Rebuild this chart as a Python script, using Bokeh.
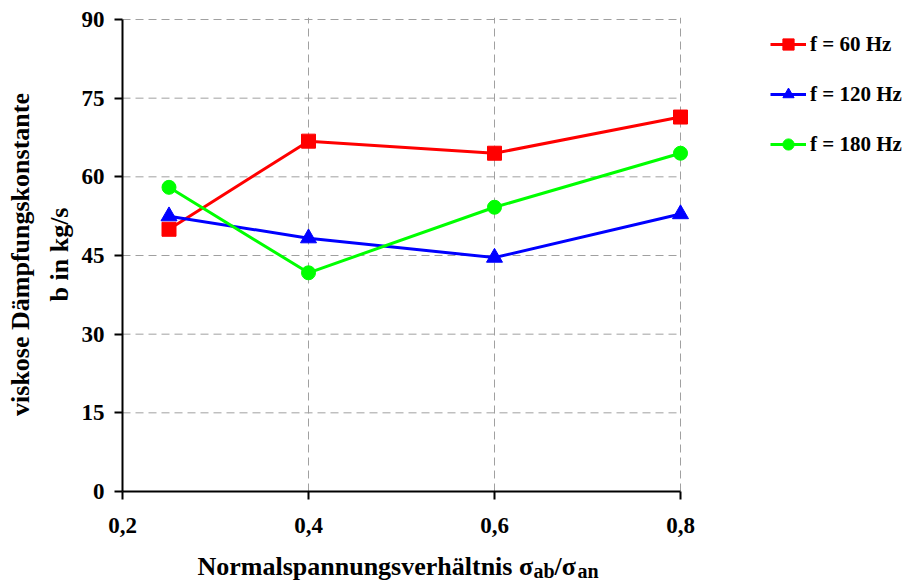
from bokeh.plotting import figure
from bokeh.layouts import column
from bokeh.models import Label, Legend, LegendItem, FixedTicker, Range1d, Title
from bokeh.embed import file_html
from bokeh.resources import INLINE

# ---- data ----
x_vals = [0.25, 0.4, 0.6, 0.8]
b_60 = [50.0, 66.8, 64.5, 71.4]
b_120 = [52.5, 48.3, 44.6, 52.9]
b_180 = [58.0, 41.7, 54.2, 64.5]
series_names = ["f = 60 Hz", "f = 120 Hz", "f = 180 Hz"]
x_ticks = [0.2, 0.4, 0.6, 0.8]
x_tick_labels = ["0,2", "0,4", "0,6", "0,8"]
y_ticks = [0, 15, 30, 45, 60, 75, 90]
y_title_lines = ["viskose Dämpfungskonstante", "b in kg/s"]
x_title_parts = ["Normalspannungsverhältnis σ", "ab", "/σ", "an"]

FONT = "Liberation Serif"
W = 905
H1, H2 = 548, 35
LEFT, TOP = 122, 17
AXIS_W, FH = 558, 474          # pixel length of 0.2..0.8 and frame height
FW = W - LEFT                  # frame runs to the right edge (room for legend)

xmin, xmax = x_ticks[0], x_ticks[-1]
ymin, ymax = y_ticks[0], y_ticks[-1]
x_end = xmin + (xmax - xmin) * FW / AXIS_W
y_end = ymax + (ymax - ymin) * 2 / (FH - 2)

p = figure(width=W, height=H1, output_backend="svg", toolbar_location=None,
           x_range=Range1d(xmin, x_end), y_range=Range1d(ymin, y_end),
           min_border_left=LEFT, min_border_top=TOP,
           min_border_right=0, min_border_bottom=H1 - TOP - FH)
p.outline_line_color = None
p.background_fill_color = "white"
p.border_fill_color = "white"

# axes
for ax in (p.xaxis[0], p.yaxis[0]):
    ax.axis_line_width = 2
    ax.axis_line_color = "black"
    ax.major_tick_line_width = 2
    ax.major_tick_line_color = "black"
    ax.major_tick_in = 0
    ax.major_tick_out = 8
    ax.minor_tick_line_color = None
    ax.major_label_text_font = FONT
    ax.major_label_text_font_style = "bold"
    ax.major_label_text_font_size = "23px"
    ax.major_label_text_color = "black"
    ax.axis_label = None
p.xaxis[0].ticker = FixedTicker(ticks=x_ticks)
p.xaxis[0].major_label_overrides = {t: l for t, l in zip(x_ticks, x_tick_labels)}
p.xaxis[0].bounds = (xmin, xmax)
p.xaxis[0].major_label_standoff = 18
p.yaxis[0].ticker = FixedTicker(ticks=y_ticks)
p.yaxis[0].bounds = (ymin, ymax)
p.yaxis[0].major_label_standoff = 10

# grid
p.xgrid.grid_line_color = "#A0A0A0"
p.xgrid.grid_line_dash = "8 5"
p.xgrid.grid_line_width = 1
p.xgrid.ticker = FixedTicker(ticks=x_ticks[1:])
p.ygrid.grid_line_color = None
p.segment(x0=[xmin] * (len(y_ticks) - 1), x1=[xmax] * (len(y_ticks) - 1),
          y0=y_ticks[1:], y1=y_ticks[1:], line_color="#A0A0A0",
          line_dash="8 5", line_width=1)

# series
colors = ["#FF0000", "#0000FF", "#00FF00"]
markers = ["square", "triangle", "circle"]
sizes = [14, 16, 14]
items = []
for ys, name, c, m, s in zip([b_60, b_120, b_180], series_names, colors, markers, sizes):
    l = p.line(x_vals, ys, line_color=c, line_width=3)
    sc = p.scatter(x_vals, ys, marker=m, size=s, fill_color=c, line_color=c)
    items.append(LegendItem(label=name, renderers=[l, sc]))

legend = Legend(items=items, location=(648, FH - 13 - 128))
legend.glyph_width = 36
legend.glyph_height = 28
legend.label_height = 28
legend.spacing = 22
legend.label_standoff = 4
legend.padding = 0
legend.margin = 0
legend.label_text_font = FONT
legend.label_text_font_style = "bold"
legend.label_text_font_size = "21px"
legend.label_text_color = "black"
legend.border_line_color = None
legend.background_fill_alpha = 0
p.add_layout(legend)

# y title: two rotated lines in the left side panel
for txt, so in zip(reversed(y_title_lines), [10, 6]):
    p.add_layout(Title(text=txt, align="center", standoff=so,
                       text_font=FONT, text_font_style="bold",
                       text_font_size="26px", text_color="black"), "left")

# x title (with subscripts) in a strip below, frame aligned with the plot's
p2 = figure(width=W, height=H2, output_backend="svg", toolbar_location=None,
            x_range=Range1d(LEFT, W), y_range=Range1d(0, H2),
            x_axis_type=None, y_axis_type=None,
            min_border_left=LEFT, min_border_right=0,
            min_border_top=0, min_border_bottom=0)
p2.outline_line_color = None
p2.grid.visible = False
x_pos = [197, 533, 554, 577]
y_pos = [17, 13, 17, 13]
sizes_t = ["26px", "20px", "26px", "20px"]
for txt, xp, yp, fs in zip(x_title_parts, x_pos, y_pos, sizes_t):
    p2.add_layout(Label(x=xp, y=yp, text=txt,
                        text_align="left", text_baseline="alphabetic",
                        text_font=FONT, text_font_style="bold",
                        text_font_size=fs, text_color="black"))

layout = column(p, p2, spacing=0)
open("out.html", "w").write(file_html(layout, INLINE))
